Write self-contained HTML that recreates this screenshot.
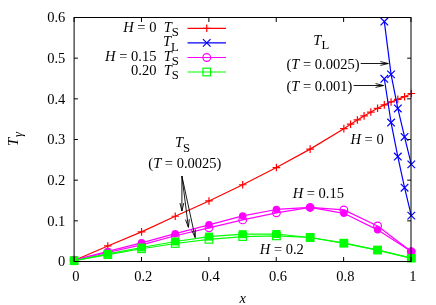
<!DOCTYPE html>
<html><head><meta charset="utf-8"><title>plot</title>
<style>
html,body{margin:0;padding:0;background:#fff;}
svg{display:block;will-change:transform;}
text{font-family:"Liberation Serif",serif;font-size:14.50px;fill:#000;}
</style></head><body>
<svg width="436" height="305" viewBox="0 0 436 305">
<rect width="436" height="305" fill="#fff"/>
<polyline points="74.10,260.50 107.82,245.96 141.54,231.91 175.26,216.23 208.98,200.97 242.70,184.76 276.42,167.55 310.14,149.12 343.86,128.67 350.60,124.22 357.35,119.97 364.09,115.92 370.84,112.07 377.58,108.30 384.32,104.90 391.07,101.94 397.81,99.39 404.56,96.68 411.30,93.52" fill="none" stroke="#ff0000" stroke-width="1.20" stroke-linejoin="round"/>
<path d="M187.50 28.30H226.00" stroke="#ff0000" stroke-width="1.20"/>
<path d="M70.30 260.50H77.90M74.10 256.70V264.30" stroke="#ff0000" stroke-width="1.20" fill="none"/>
<path d="M104.02 245.96H111.62M107.82 242.16V249.76" stroke="#ff0000" stroke-width="1.20" fill="none"/>
<path d="M137.74 231.91H145.34M141.54 228.11V235.71" stroke="#ff0000" stroke-width="1.20" fill="none"/>
<path d="M171.46 216.23H179.06M175.26 212.43V220.03" stroke="#ff0000" stroke-width="1.20" fill="none"/>
<path d="M205.18 200.97H212.78M208.98 197.16V204.77" stroke="#ff0000" stroke-width="1.20" fill="none"/>
<path d="M238.90 184.76H246.50M242.70 180.96V188.56" stroke="#ff0000" stroke-width="1.20" fill="none"/>
<path d="M272.62 167.55H280.22M276.42 163.75V171.35" stroke="#ff0000" stroke-width="1.20" fill="none"/>
<path d="M306.34 149.12H313.94M310.14 145.32V152.93" stroke="#ff0000" stroke-width="1.20" fill="none"/>
<path d="M340.06 128.67H347.66M343.86 124.87V132.47" stroke="#ff0000" stroke-width="1.20" fill="none"/>
<path d="M346.80 124.22H354.40M350.60 120.42V128.02" stroke="#ff0000" stroke-width="1.20" fill="none"/>
<path d="M353.55 119.97H361.15M357.35 116.17V123.77" stroke="#ff0000" stroke-width="1.20" fill="none"/>
<path d="M360.29 115.92H367.89M364.09 112.12V119.72" stroke="#ff0000" stroke-width="1.20" fill="none"/>
<path d="M367.04 112.07H374.64M370.84 108.27V115.87" stroke="#ff0000" stroke-width="1.20" fill="none"/>
<path d="M373.78 108.30H381.38M377.58 104.50V112.10" stroke="#ff0000" stroke-width="1.20" fill="none"/>
<path d="M380.52 104.90H388.12M384.32 101.10V108.70" stroke="#ff0000" stroke-width="1.20" fill="none"/>
<path d="M387.27 101.94H394.87M391.07 98.14V105.74" stroke="#ff0000" stroke-width="1.20" fill="none"/>
<path d="M394.01 99.39H401.61M397.81 95.59V103.19" stroke="#ff0000" stroke-width="1.20" fill="none"/>
<path d="M400.76 96.68H408.36M404.56 92.88V100.48" stroke="#ff0000" stroke-width="1.20" fill="none"/>
<path d="M407.50 93.52H415.10M411.30 89.72V97.32" stroke="#ff0000" stroke-width="1.20" fill="none"/>
<path d="M202.95 28.30H210.55M206.75 24.50V32.10" stroke="#ff0000" stroke-width="1.20" fill="none"/>
<polyline points="384.32,21.55 391.07,74.40 397.81,108.42 404.56,136.98 411.30,164.39" fill="none" stroke="#0000ff" stroke-width="1.20" stroke-linejoin="round"/>
<path d="M187.50 42.90H226.00" stroke="#0000ff" stroke-width="1.20"/>
<path d="M380.52 17.75L388.12 25.35M380.52 25.35L388.12 17.75" stroke="#0000ff" stroke-width="1.20" fill="none"/>
<path d="M387.27 70.60L394.87 78.20M387.27 78.20L394.87 70.60" stroke="#0000ff" stroke-width="1.20" fill="none"/>
<path d="M394.01 104.62L401.61 112.22M394.01 112.22L401.61 104.62" stroke="#0000ff" stroke-width="1.20" fill="none"/>
<path d="M400.76 133.18L408.36 140.78M400.76 140.78L408.36 133.18" stroke="#0000ff" stroke-width="1.20" fill="none"/>
<path d="M407.50 160.59L415.10 168.19M407.50 168.19L415.10 160.59" stroke="#0000ff" stroke-width="1.20" fill="none"/>
<path d="M202.95 39.10L210.55 46.70M202.95 46.70L210.55 39.10" stroke="#0000ff" stroke-width="1.20" fill="none"/>
<polyline points="74.10,260.10 107.82,252.52 141.54,244.91 175.26,235.79 208.98,227.82 242.70,219.88 276.42,212.79 310.14,207.44 343.86,209.88 377.58,225.95 411.30,251.59" fill="none" stroke="#ff00ff" stroke-width="1.20" stroke-linejoin="round"/>
<path d="M187.50 57.50H226.00" stroke="#ff00ff" stroke-width="1.20"/>
<circle cx="74.10" cy="260.10" r="3.85" stroke="#ff00ff" stroke-width="1.20" fill="none"/>
<circle cx="107.82" cy="252.52" r="3.85" stroke="#ff00ff" stroke-width="1.20" fill="none"/>
<circle cx="141.54" cy="244.91" r="3.85" stroke="#ff00ff" stroke-width="1.20" fill="none"/>
<circle cx="175.26" cy="235.79" r="3.85" stroke="#ff00ff" stroke-width="1.20" fill="none"/>
<circle cx="208.98" cy="227.82" r="3.85" stroke="#ff00ff" stroke-width="1.20" fill="none"/>
<circle cx="242.70" cy="219.88" r="3.85" stroke="#ff00ff" stroke-width="1.20" fill="none"/>
<circle cx="276.42" cy="212.79" r="3.85" stroke="#ff00ff" stroke-width="1.20" fill="none"/>
<circle cx="310.14" cy="207.44" r="3.85" stroke="#ff00ff" stroke-width="1.20" fill="none"/>
<circle cx="343.86" cy="209.88" r="3.85" stroke="#ff00ff" stroke-width="1.20" fill="none"/>
<circle cx="377.58" cy="225.95" r="3.85" stroke="#ff00ff" stroke-width="1.20" fill="none"/>
<circle cx="411.30" cy="251.59" r="3.85" stroke="#ff00ff" stroke-width="1.20" fill="none"/>
<circle cx="206.75" cy="57.50" r="3.85" stroke="#ff00ff" stroke-width="1.20" fill="none"/>
<polyline points="74.10,260.70 107.82,254.59 141.54,248.75 175.26,243.49 208.98,239.32 242.70,236.60 276.42,235.88 310.14,237.50 343.86,243.17 377.58,250.05 411.30,258.07" fill="none" stroke="#00ff00" stroke-width="1.20" stroke-linejoin="round"/>
<path d="M187.50 72.00H226.00" stroke="#00ff00" stroke-width="1.20"/>
<rect x="70.30" y="256.90" width="7.60" height="7.60" stroke="#00ff00" stroke-width="1.20" fill="none"/>
<rect x="104.02" y="250.79" width="7.60" height="7.60" stroke="#00ff00" stroke-width="1.20" fill="none"/>
<rect x="137.74" y="244.95" width="7.60" height="7.60" stroke="#00ff00" stroke-width="1.20" fill="none"/>
<rect x="171.46" y="239.69" width="7.60" height="7.60" stroke="#00ff00" stroke-width="1.20" fill="none"/>
<rect x="205.18" y="235.52" width="7.60" height="7.60" stroke="#00ff00" stroke-width="1.20" fill="none"/>
<rect x="238.90" y="232.80" width="7.60" height="7.60" stroke="#00ff00" stroke-width="1.20" fill="none"/>
<rect x="272.62" y="232.08" width="7.60" height="7.60" stroke="#00ff00" stroke-width="1.20" fill="none"/>
<rect x="306.34" y="233.70" width="7.60" height="7.60" stroke="#00ff00" stroke-width="1.20" fill="none"/>
<rect x="340.06" y="239.37" width="7.60" height="7.60" stroke="#00ff00" stroke-width="1.20" fill="none"/>
<rect x="373.78" y="246.25" width="7.60" height="7.60" stroke="#00ff00" stroke-width="1.20" fill="none"/>
<rect x="407.50" y="254.27" width="7.60" height="7.60" stroke="#00ff00" stroke-width="1.20" fill="none"/>
<rect x="202.95" y="68.20" width="7.60" height="7.60" stroke="#00ff00" stroke-width="1.20" fill="none"/>
<polyline points="384.32,78.78 391.07,122.52 397.81,156.58 404.56,187.68 411.30,215.63" fill="none" stroke="#0000ff" stroke-width="1.20" stroke-linejoin="round"/>
<path d="M380.52 74.98L388.12 82.58M380.52 82.58L388.12 74.98" stroke="#0000ff" stroke-width="1.20" fill="none"/>
<path d="M387.27 118.72L394.87 126.32M387.27 126.32L394.87 118.72" stroke="#0000ff" stroke-width="1.20" fill="none"/>
<path d="M394.01 152.78L401.61 160.38M394.01 160.38L401.61 152.78" stroke="#0000ff" stroke-width="1.20" fill="none"/>
<path d="M400.76 183.88L408.36 191.48M400.76 191.48L408.36 183.88" stroke="#0000ff" stroke-width="1.20" fill="none"/>
<path d="M407.50 211.83L415.10 219.43M407.50 219.43L415.10 211.83" stroke="#0000ff" stroke-width="1.20" fill="none"/>
<polyline points="74.10,260.10 107.82,251.39 141.54,242.80 175.26,233.65 208.98,224.86 242.70,215.95 276.42,209.47 310.14,207.44 343.86,213.32 377.58,229.84 411.30,251.59" fill="none" stroke="#ff00ff" stroke-width="1.20" stroke-linejoin="round"/>
<circle cx="74.10" cy="260.10" r="3.75" fill="#ff00ff"/>
<circle cx="107.82" cy="251.39" r="3.75" fill="#ff00ff"/>
<circle cx="141.54" cy="242.80" r="3.75" fill="#ff00ff"/>
<circle cx="175.26" cy="233.65" r="3.75" fill="#ff00ff"/>
<circle cx="208.98" cy="224.86" r="3.75" fill="#ff00ff"/>
<circle cx="242.70" cy="215.95" r="3.75" fill="#ff00ff"/>
<circle cx="276.42" cy="209.47" r="3.75" fill="#ff00ff"/>
<circle cx="310.14" cy="207.44" r="3.75" fill="#ff00ff"/>
<circle cx="343.86" cy="213.32" r="3.75" fill="#ff00ff"/>
<circle cx="377.58" cy="229.84" r="3.75" fill="#ff00ff"/>
<circle cx="411.30" cy="251.59" r="3.75" fill="#ff00ff"/>
<polyline points="74.10,260.70 107.82,253.82 141.54,247.50 175.26,241.47 208.98,236.60 242.70,234.18 276.42,234.01 310.14,237.50 343.86,243.17 377.58,250.05 411.30,258.07" fill="none" stroke="#00ff00" stroke-width="1.20" stroke-linejoin="round"/>
<rect x="70.10" y="256.70" width="8.00" height="8.00" fill="#00ff00"/>
<rect x="103.82" y="249.82" width="8.00" height="8.00" fill="#00ff00"/>
<rect x="137.54" y="243.50" width="8.00" height="8.00" fill="#00ff00"/>
<rect x="171.26" y="237.47" width="8.00" height="8.00" fill="#00ff00"/>
<rect x="204.98" y="232.60" width="8.00" height="8.00" fill="#00ff00"/>
<rect x="238.70" y="230.18" width="8.00" height="8.00" fill="#00ff00"/>
<rect x="272.42" y="230.01" width="8.00" height="8.00" fill="#00ff00"/>
<rect x="306.14" y="233.50" width="8.00" height="8.00" fill="#00ff00"/>
<rect x="339.86" y="239.17" width="8.00" height="8.00" fill="#00ff00"/>
<rect x="373.58" y="246.05" width="8.00" height="8.00" fill="#00ff00"/>
<rect x="407.30" y="254.07" width="8.00" height="8.00" fill="#00ff00"/>
<path d="M74.10 261.50V257.00M74.10 17.50V22.00M141.48 261.50V257.00M141.48 17.50V22.00M208.86 261.50V257.00M208.86 17.50V22.00M276.24 261.50V257.00M276.24 17.50V22.00M343.62 261.50V257.00M343.62 17.50V22.00M411.00 261.50V257.00M411.00 17.50V22.00M74.10 261.50H77.90M411.00 261.50H407.20M74.10 220.83H77.90M411.00 220.83H407.20M74.10 180.17H77.90M411.00 180.17H407.20M74.10 139.50H77.90M411.00 139.50H407.20M74.10 98.83H77.90M411.00 98.83H407.20M74.10 58.17H77.90M411.00 58.17H407.20M74.10 17.50H77.90M411.00 17.50H407.20" stroke="#000" stroke-width="1.00" fill="none"/>
<rect x="74.10" y="17.50" width="336.90" height="244.00" stroke="#000" stroke-width="1.00" fill="none"/>
<path d="M360.70 63.50L388.30 63.50M380.33 65.41L388.30 63.50L380.33 61.59" stroke="#000" stroke-width="0.9" fill="none" stroke-linejoin="miter"/>
<path d="M353.60 85.50L383.50 85.50M375.53 87.41L383.50 85.50L375.53 83.59" stroke="#000" stroke-width="0.9" fill="none" stroke-linejoin="miter"/>
<path d="M181.90 176.00L181.90 211.00M179.99 203.03L181.90 211.00L183.81 203.03" stroke="#000" stroke-width="0.9" fill="none" stroke-linejoin="miter"/>
<path d="M181.90 176.00L188.40 227.30M185.50 219.63L188.40 227.30L189.30 219.15" stroke="#000" stroke-width="0.9" fill="none" stroke-linejoin="miter"/>
<path d="M181.90 176.00L195.20 237.60M191.65 230.21L195.20 237.60L195.39 229.40" stroke="#000" stroke-width="0.9" fill="none" stroke-linejoin="miter"/>
<text x="65.30" y="266.35" text-anchor="end" >0</text>
<text x="65.30" y="225.68" text-anchor="end" >0.1</text>
<text x="65.30" y="185.02" text-anchor="end" >0.2</text>
<text x="65.30" y="144.35" text-anchor="end" >0.3</text>
<text x="65.30" y="103.68" text-anchor="end" >0.4</text>
<text x="65.30" y="63.02" text-anchor="end" >0.5</text>
<text x="65.30" y="22.35" text-anchor="end" >0.6</text>
<text x="75.90" y="281.20" text-anchor="middle" >0</text>
<text x="143.28" y="281.20" text-anchor="middle" >0.2</text>
<text x="210.66" y="281.20" text-anchor="middle" >0.4</text>
<text x="278.04" y="281.20" text-anchor="middle" >0.6</text>
<text x="345.42" y="281.20" text-anchor="middle" >0.8</text>
<text x="412.80" y="281.20" text-anchor="middle" >1</text>
<text x="242.75" y="302.80" text-anchor="middle" ><tspan font-style="italic">x</tspan></text>
<text transform="translate(18.1,146.1) rotate(-90)" x="0" y="0"><tspan font-style="italic">T</tspan><tspan font-size="12.70" dy="3.50" dx="1.0" font-style="italic">γ</tspan></text>
<text x="178.80" y="31.50" text-anchor="end" ><tspan font-style="italic">H</tspan> = 0&#160;&#160;<tspan font-style="italic">T</tspan><tspan font-size="12.70" dy="4.30">S</tspan></text>
<text x="178.80" y="46.40" text-anchor="end" ><tspan font-style="italic">T</tspan><tspan font-size="12.70" dy="4.30">L</tspan></text>
<text x="178.80" y="60.50" text-anchor="end" ><tspan font-style="italic">H</tspan> = 0.15&#160;&#160;<tspan font-style="italic">T</tspan><tspan font-size="12.70" dy="4.30">S</tspan></text>
<text x="178.80" y="75.00" text-anchor="end" >0.20&#160;&#160;<tspan font-style="italic">T</tspan><tspan font-size="12.70" dy="4.30">S</tspan></text>
<text x="313.30" y="45.00" text-anchor="start" ><tspan font-style="italic">T</tspan><tspan font-size="12.70" dy="4.30">L</tspan></text>
<text x="286.50" y="69.00" text-anchor="start" >(<tspan font-style="italic">T</tspan> = 0.0025)</text>
<text x="286.50" y="91.00" text-anchor="start" >(<tspan font-style="italic">T</tspan> = 0.001)</text>
<text x="350.50" y="143.60" text-anchor="start" ><tspan font-style="italic">H</tspan> = 0</text>
<text x="292.70" y="198.10" text-anchor="start" ><tspan font-style="italic">H</tspan> = 0.15</text>
<text x="259.80" y="253.80" text-anchor="start" ><tspan font-style="italic">H</tspan> = 0.2</text>
<text x="174.90" y="147.40" text-anchor="start" ><tspan font-style="italic">T</tspan><tspan font-size="12.70" dy="4.30">S</tspan></text>
<text x="148.30" y="168.10" text-anchor="start" >(<tspan font-style="italic">T</tspan> = 0.0025)</text>
</svg>
</body></html>
